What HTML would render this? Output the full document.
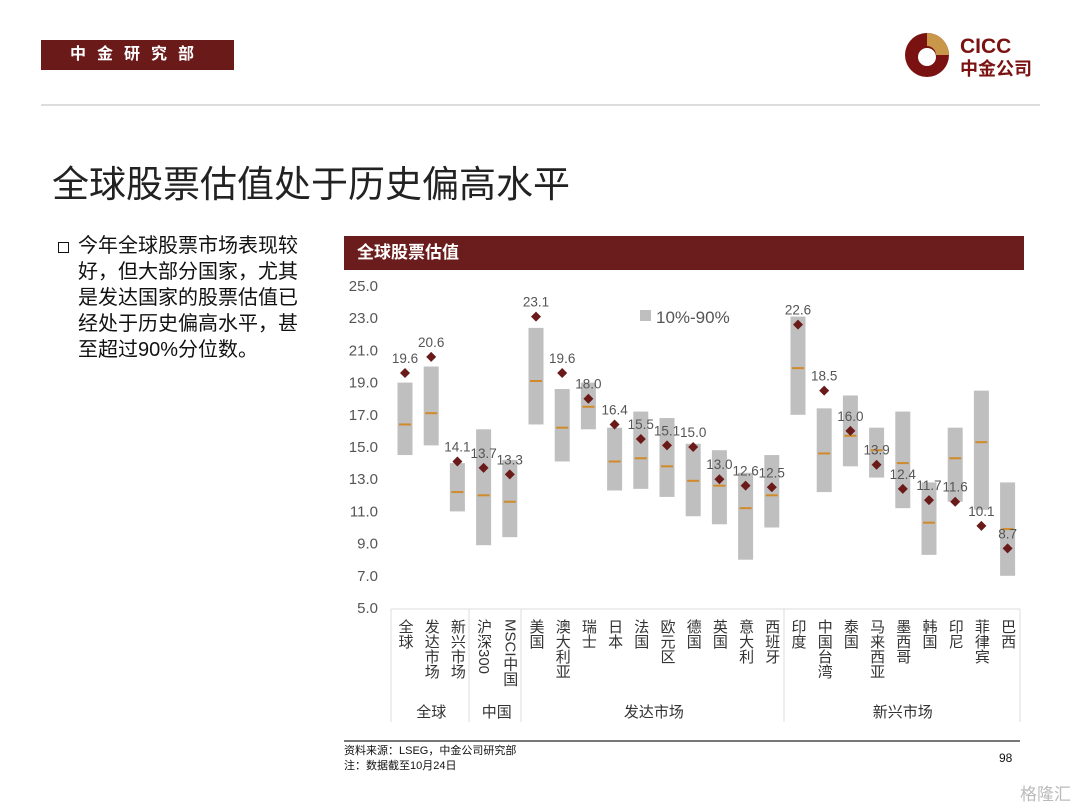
<!DOCTYPE html>
<html><head><meta charset="utf-8"><style>
body{margin:0;width:1080px;height:810px;background:#fff;position:relative;overflow:hidden;font-family:"Liberation Sans","Noto Sans CJK SC",sans-serif;}
.abs{position:absolute}
.cat{position:absolute;top:619px;writing-mode:vertical-rl;font-size:15px;color:#333;line-height:15px;white-space:nowrap;}
</style></head><body>
<div class="abs" style="left:41px;top:40px;width:193px;height:30px;background:#6b1a1a;color:#fff;font-size:16px;font-weight:bold;letter-spacing:11px;line-height:30px;text-align:center;">中金研究部</div>
<svg class="abs" style="left:900px;top:28px" width="150" height="55">
<circle cx="27" cy="27" r="22" fill="#7a1212"/>
<path d="M27 5 A22 22 0 0 1 49 27 L36 27 A9 9 0 0 0 27 18 Z" fill="#c9974a"/>
<circle cx="27" cy="29" r="9" fill="#fff"/>
<text x="60" y="25" font-size="21" font-weight="bold" fill="#7a1212" font-family="Liberation Sans">CICC</text>
<text x="60" y="47" font-size="18" font-weight="bold" fill="#7a1212" font-family="Noto Sans CJK SC">中金公司</text>
</svg>
<div class="abs" style="left:41px;top:104px;width:999px;height:2px;background:#ddd"></div>
<div class="abs" style="left:52px;top:154px;font-size:37px;color:#222;white-space:nowrap">全球股票估值处于历史偏高水平</div>
<div class="abs" style="left:58px;top:233px;width:236px;font-size:20px;line-height:26px;color:#111;padding-left:20px;">
<span style="position:absolute;left:0;top:9px;width:9px;height:9px;border:1.5px solid #111"></span>今年全球股票市场表现较好，但大部分国家，尤其是发达国家的股票估值已经处于历史偏高水平，甚至超过90%分位数。</div>
<div class="abs" style="left:344px;top:236px;width:680px;height:34px;background:#6b1d1d;color:#fff;font-size:17px;font-weight:bold;line-height:34px;padding-left:13px;box-sizing:border-box">全球股票估值</div>
<svg id="chart" class="abs" style="left:0;top:0" width="1080" height="810"></svg>
<div id="cats"></div>
<div class="abs" style="left:344px;top:740px;width:676px;height:2px;background:#777"></div>
<div class="abs" style="left:344px;top:744px;font-size:11px;line-height:15px;color:#111">资料来源：LSEG，中金公司研究部<br>注：数据截至10月24日</div>
<div class="abs" style="left:999px;top:751px;font-size:12px;color:#111">98</div>
<div class="abs" style="left:1020px;top:780px;font-size:17px;color:#bbb">格隆汇</div>
<script>
const categories=["全球","发达市场","新兴市场","沪深300","MSCI中国","美国","澳大利亚","瑞士","日本","法国","欧元区","德国","英国","意大利","西班牙","印度","中国台湾","泰国","马来西亚","墨西哥","韩国","印尼","菲律宾","巴西"];
const currentPE=[19.6,20.6,14.1,13.7,13.3,23.1,19.6,18.0,16.4,15.5,15.1,15.0,13.0,12.6,12.5,22.6,18.5,16.0,13.9,12.4,11.7,11.6,10.1,8.7];
const p10=[14.5,15.1,11.0,8.9,9.4,16.4,14.1,16.1,12.3,12.4,11.9,10.7,10.2,8.0,10.0,17.0,12.2,13.8,13.1,11.2,8.3,11.6,11.1,7.0];
const p90=[19.0,20.0,14.0,16.1,14.2,22.4,18.6,19.0,16.2,17.2,16.8,15.2,14.8,13.4,14.5,23.1,17.4,18.2,16.2,17.2,12.8,16.2,18.5,12.8];
const median=[16.4,17.1,12.2,12.0,11.6,19.1,16.2,17.5,14.1,14.3,13.8,12.9,12.6,11.2,12.0,19.9,14.6,15.7,14.8,14.0,10.3,14.3,15.3,9.9];
const yTicks=[5,7,9,11,13,15,17,19,21,23,25];
const groups=[["全球",0,2],["中国",3,4],["发达市场",5,14],["新兴市场",15,23]];
const NS="http://www.w3.org/2000/svg";
const svg=document.getElementById('chart');
const catBox=document.getElementById('cats');
const y=v=>608-(v-5)*16.1;
const x=i=>405+i*26.2;
function mk(t,a,txt){const e=document.createElementNS(NS,t);for(const k in a)e.setAttribute(k,a[k]);if(txt!=null)e.textContent=txt;svg.appendChild(e);return e;}
yTicks.forEach(t=>{const e=mk('text',{x:378,y:y(t)+5,'text-anchor':'end','font-size':15,fill:'#555'},t.toFixed(1));

});
categories.forEach((c,i)=>{
const b=mk('rect',{x:x(i)-7.5,y:y(p90[i]),width:15,height:y(p10[i])-y(p90[i]),fill:'#bfbfbf'});


const m=mk('line',{x1:x(i)-6,x2:x(i)+6,y1:y(median[i]),y2:y(median[i]),stroke:'#d08a2a','stroke-width':2});


const yy=y(currentPE[i]);
const d=mk('path',{d:`M${x(i)} ${yy-5}L${x(i)+5} ${yy}L${x(i)} ${yy+5}L${x(i)-5} ${yy}Z`,fill:'#6b1a1a'});


const l=mk('text',{x:x(i),y:yy-10,'text-anchor':'middle','font-size':13.5,fill:'#555'},currentPE[i].toFixed(1));


const ct=document.createElement('div');
ct.className='cat';
ct.style.left=(x(i)-7.5)+'px';
ct.textContent=c;


catBox.appendChild(ct);
});
mk('line',{x1:391,x2:1020,y1:609,y2:609,stroke:'#ddd'});
[391,469,521,784,1020].forEach(v=>mk('line',{x1:v,x2:v,y1:609,y2:722,stroke:'#ddd'}));
groups.forEach(g=>{const t=mk('text',{x:(x(g[1])+x(g[2]))/2,y:717,'text-anchor':'middle','font-size':15,fill:'#333'},g[0]);

});
const lg=mk('rect',{x:640,y:310,width:11,height:11,fill:'#bfbfbf'});


const lt=mk('text',{x:656,y:323,'font-size':17,fill:'#555'},'10%-90%');


</script>
</body></html>
